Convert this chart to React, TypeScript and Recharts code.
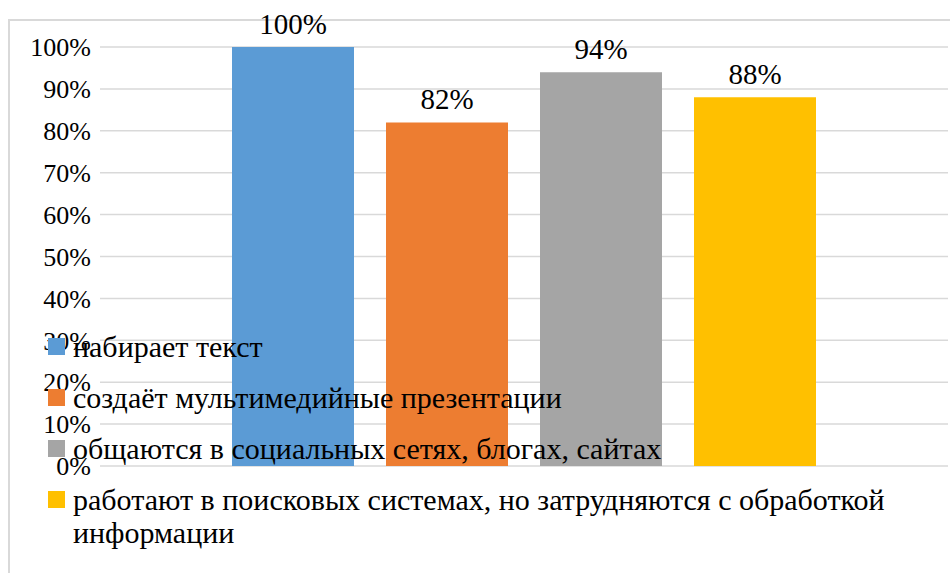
import React, { useLayoutEffect, useRef } from 'react';
import { BarChart, Bar, XAxis, YAxis, CartesianGrid, Legend, LabelList } from 'recharts';

const FACE = ['Liberation', 'Serif'].join(' ');
const FONT = `"${FACE}", Tinos, "Times New Roman"`;

const categories = [''];
const seriesNames = [
  'набирает текст',
  'создаёт мультимедийные презентации',
  'общаются в социальных сетях, блогах, сайтах',
  'работают в поисковых системах, но затрудняются с обработкой информации',
];
const seriesValues = [100, 82, 94, 88];
const seriesColors = ['#5B9BD5', '#ED7D31', '#A5A5A5', '#FFC000'];
const yTicks = [0, 10, 20, 30, 40, 50, 60, 70, 80, 90, 100];

const data = categories.map((name) => {
  const row: Record<string, string | number> = { name };
  seriesValues.forEach((v, i) => {
    row[`s${i}`] = v;
  });
  return row;
});

const pct = (v: any) => `${v}%`;

const renderLegend = () => (
  <div style={{ fontSize: 30, lineHeight: '33px', color: '#000' }}>
    {seriesNames.map((n, i) => (
      <div key={n} style={{ display: 'flex', alignItems: 'flex-start', marginBottom: 18 }}>
        <span
          style={{
            width: 17,
            height: 17,
            background: seriesColors[i],
            marginTop: 8,
            marginRight: 8,
            flexShrink: 0,
          }}
        />
        <span>{n}</span>
      </div>
    ))}
  </div>
);

export default function App() {
  const boxRef = useRef<HTMLDivElement>(null);

  // recharts adds its ticks/labels over several passes, so keep re-applying the face
  useLayoutEffect(() => {
    const box = boxRef.current;
    if (!box) return;
    const apply = () => {
      box.style.setProperty('font-family', FONT, 'important');
      box.querySelectorAll<HTMLElement | SVGElement>('*').forEach((el) => {
        if (el.style && el.style.getPropertyValue('font-family') !== FONT) {
          el.style.setProperty('font-family', FONT, 'important');
        }
      });
    };
    apply();
    const obs = new MutationObserver(apply);
    obs.observe(box, { childList: true, subtree: true });
    return () => obs.disconnect();
  }, []);

  return (
    <div
      ref={boxRef}
      style={{
        position: 'absolute',
        left: 0,
        top: 0,
        width: 950,
        height: 573,
        background: '#fff',
        overflow: 'hidden',
        fontFamily: FONT,
      }}
    >
      <div
        style={{
          position: 'absolute',
          left: 8,
          top: 19,
          width: 1000,
          height: 600,
          border: '2px solid #d9d9d9',
        }}
      />
      <BarChart
        width={950}
        height={573}
        data={data}
        margin={{ top: 47, right: 2, bottom: 107, left: 0 }}
        barGap={32}
      >
        <CartesianGrid horizontal={true} vertical={false} stroke="#d9d9d9" strokeWidth={1.5} />
        <XAxis dataKey="name" hide />
        <YAxis
          type="number"
          domain={[0, 100]}
          ticks={yTicks}
          tickFormatter={pct}
          axisLine={false}
          tickLine={false}
          tickSize={0}
          tickMargin={9}
          width={100}
          tick={{ fontSize: 26, fill: '#000' }}
        />
        <Legend
          layout="vertical"
          align="center"
          verticalAlign="middle"
          width={880}
          content={renderLegend}
          wrapperStyle={{ left: 48, top: 330 }}
        />
        {seriesNames.map((n, i) => (
          <Bar
            key={n}
            dataKey={`s${i}`}
            name={n}
            fill={seriesColors[i]}
            barSize={122}
            isAnimationActive={false}
          >
            <LabelList
              dataKey={`s${i}`}
              position="top"
              offset={13}
              formatter={pct}
              fontSize={29}
              fill="#000"
            />
          </Bar>
        ))}
      </BarChart>
    </div>
  );
}
